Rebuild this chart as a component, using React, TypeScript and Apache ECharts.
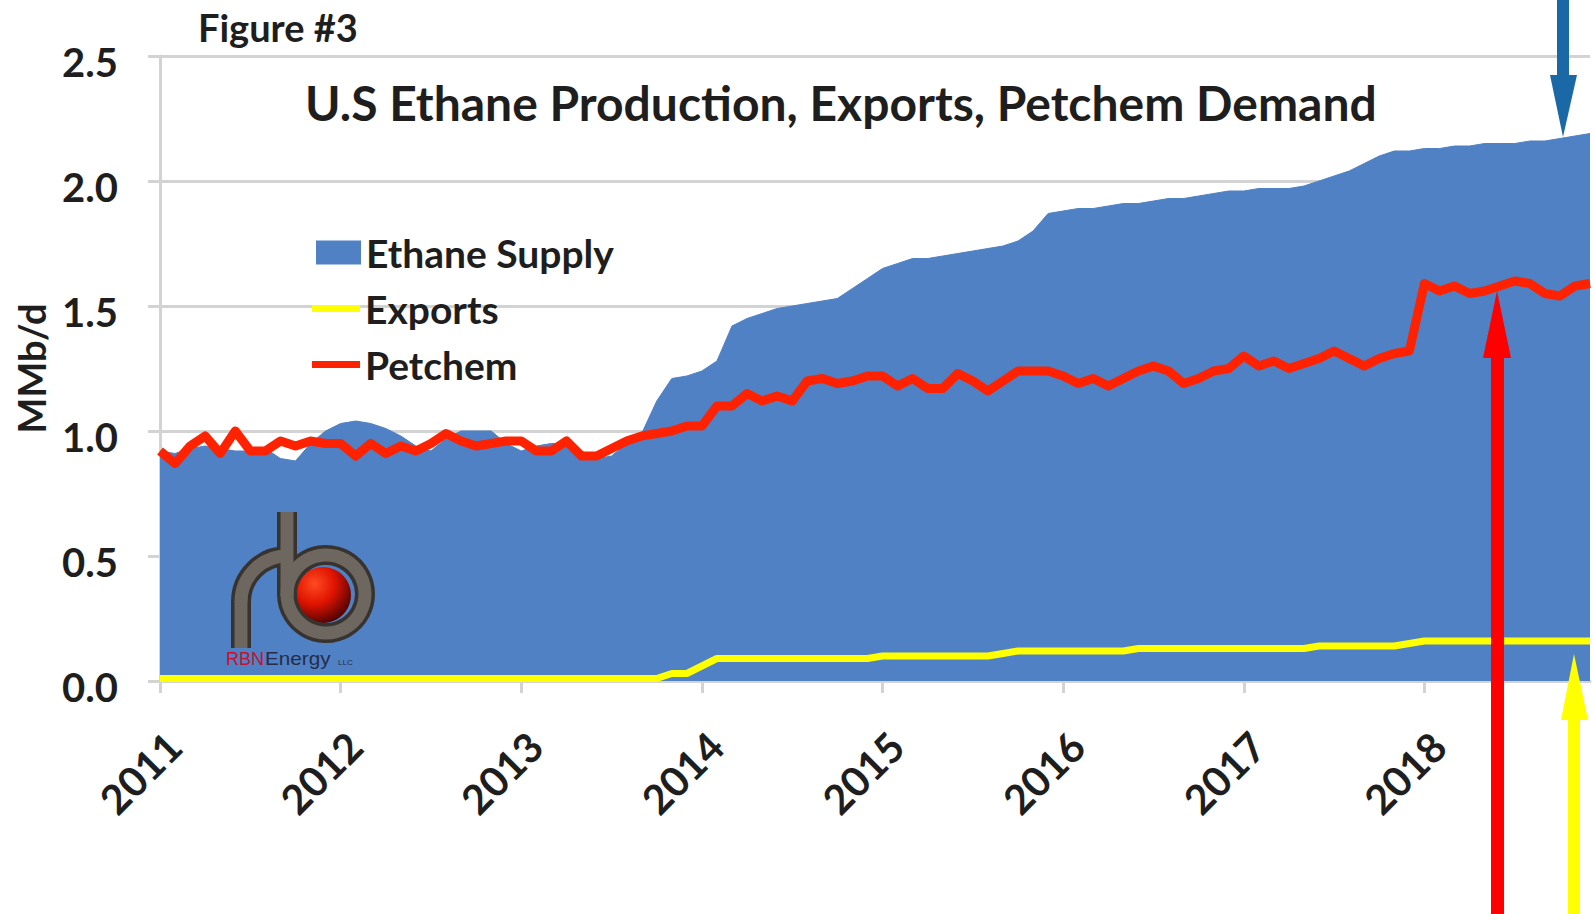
import React, { useEffect, useRef } from 'react';
import * as echarts from 'echarts';

const years = ['2011', '2012', '2013', '2014', '2015', '2016', '2017', '2018'];
const monthNums = ['01', '02', '03', '04', '05', '06', '07', '08', '09', '10', '11', '12'];
const months = years.flatMap((y) => monthNums.map((m) => `${y}-${m}`));

const yTickValues = [0, 0.5, 1.0, 1.5, 2.0, 2.5];

// MMb/d, monthly Jan 2011 - Dec 2018
const ethaneSupply = [
  0.92, 0.91, 0.93, 0.94, 0.93, 0.92, 0.92, 0.93, 0.89, 0.88, 0.95, 1.0,
  1.03, 1.04, 1.03, 1.01, 0.98, 0.94, 0.92, 0.97, 1.0, 1.0, 1.0, 0.95,
  0.92, 0.94, 0.95, 0.95, 0.92, 0.89, 0.9, 0.95, 0.99, 1.12, 1.21, 1.22,
  1.24, 1.28, 1.42, 1.45, 1.47, 1.49, 1.5, 1.51, 1.52, 1.53, 1.57, 1.61,
  1.65, 1.67, 1.69, 1.69, 1.7, 1.71, 1.72, 1.73, 1.74, 1.76, 1.8, 1.87,
  1.88, 1.89, 1.89, 1.9, 1.91, 1.91, 1.92, 1.93, 1.93, 1.94, 1.95, 1.96,
  1.96, 1.97, 1.97, 1.97, 1.98, 2.0, 2.02, 2.04, 2.07, 2.1, 2.12, 2.12,
  2.13, 2.13, 2.14, 2.14, 2.15, 2.15, 2.15, 2.16, 2.16, 2.17, 2.18, 2.19,
];

const exportsData = [
  0.01, 0.01, 0.01, 0.01, 0.01, 0.01, 0.01, 0.01, 0.01, 0.01, 0.01, 0.01,
  0.01, 0.01, 0.01, 0.01, 0.01, 0.01, 0.01, 0.01, 0.01, 0.01, 0.01, 0.01,
  0.01, 0.01, 0.01, 0.01, 0.01, 0.01, 0.01, 0.01, 0.01, 0.01, 0.03, 0.03,
  0.06, 0.09, 0.09, 0.09, 0.09, 0.09, 0.09, 0.09, 0.09, 0.09, 0.09, 0.09,
  0.1, 0.1, 0.1, 0.1, 0.1, 0.1, 0.1, 0.1, 0.11, 0.12, 0.12, 0.12,
  0.12, 0.12, 0.12, 0.12, 0.12, 0.13, 0.13, 0.13, 0.13, 0.13, 0.13, 0.13,
  0.13, 0.13, 0.13, 0.13, 0.13, 0.14, 0.14, 0.14, 0.14, 0.14, 0.14, 0.15,
  0.16, 0.16, 0.16, 0.16, 0.16, 0.16, 0.16, 0.16, 0.16, 0.16, 0.16, 0.16,
];

const petchem = [
  0.92, 0.87, 0.94, 0.98, 0.91, 1.0, 0.92, 0.92, 0.96, 0.94, 0.96, 0.95,
  0.95, 0.9, 0.95, 0.91, 0.94, 0.92, 0.95, 0.99, 0.96, 0.94, 0.95, 0.96,
  0.96, 0.92, 0.92, 0.96, 0.9, 0.9, 0.93, 0.96, 0.98, 0.99, 1.0, 1.02,
  1.02, 1.1, 1.1, 1.15, 1.12, 1.14, 1.12, 1.2, 1.21, 1.19, 1.2, 1.22,
  1.22, 1.18, 1.21, 1.17, 1.17, 1.23, 1.2, 1.16, 1.2, 1.24, 1.24, 1.24,
  1.22, 1.19, 1.21, 1.18, 1.21, 1.24, 1.26, 1.24, 1.19, 1.21, 1.24, 1.25,
  1.3, 1.26, 1.28, 1.25, 1.27, 1.29, 1.32, 1.29, 1.26, 1.29, 1.31, 1.32,
  1.59, 1.56, 1.58, 1.55, 1.56, 1.58, 1.6, 1.59, 1.55, 1.54, 1.58, 1.59,
];

const FONT = 'Lato';
const BLUE = '#4F81C4';
const RED = '#FF2200';
const YELLOW = '#FFFF00';
const GRID_GRAY = '#D3D3D3';
const TEXT = '#1E1E1E';

const pipeDark = '#38332f';
const pipeLight = '#6d6760';
const LOGO_Z = 50;

function buildLogo() {
  const strokes = (color: string, width: number) => [
    {
      type: 'arc',
      z: LOGO_Z,
      shape: { cx: 287, cy: 602, r: 46, startAngle: Math.PI, endAngle: Math.PI * 1.5, clockwise: true },
      style: { stroke: color, lineWidth: width, fill: null },
    },
    {
      type: 'line',
      z: LOGO_Z,
      shape: { x1: 241, y1: 601, x2: 241, y2: 648 },
      style: { stroke: color, lineWidth: width },
    },
    {
      type: 'line',
      z: LOGO_Z,
      shape: { x1: 287, y1: 512, x2: 287, y2: 596 },
      style: { stroke: color, lineWidth: width },
    },
    {
      type: 'circle',
      z: LOGO_Z,
      shape: { cx: 326, cy: 594, r: 39 },
      style: { stroke: color, lineWidth: width, fill: null },
    },
  ];
  const txt = (text: string, x: number, y: number, fill: string, size: number, sx: number) => ({
    type: 'text',
    z: LOGO_Z,
    x,
    y,
    scaleX: sx,
    style: { text, fill, fontSize: size, fontFamily: 'Liberation Sans', verticalAlign: 'middle' },
  });
  return [
    {
      type: 'circle',
      z: LOGO_Z,
      shape: { cx: 323, cy: 595, r: 28 },
      style: {
        fill: new echarts.graphic.RadialGradient(0.35, 0.3, 0.8, [
          { offset: 0, color: '#ff4a22' },
          { offset: 0.45, color: '#e01400' },
          { offset: 1, color: '#3a0000' },
        ]),
      },
    },
    ...strokes(pipeDark, 20),
    ...strokes(pipeLight, 13),
    txt('RBN', 226, 659, '#c8102e', 18, 1),
    txt('Energy', 265, 659, '#262c4a', 18, 1.15),
    txt('LLC', 338, 662, '#262c4a', 8, 1),
  ];
}

function buildArrows() {
  return [
    { type: 'rect', z: 60, shape: { x: 1557, y: 0, width: 12, height: 80 }, style: { fill: '#1a69a6' } },
    { type: 'polygon', z: 60, shape: { points: [[1550, 75], [1577, 75], [1563, 137]] }, style: { fill: '#1a69a6' } },
    { type: 'rect', z: 60, shape: { x: 1491, y: 352, width: 13, height: 562 }, style: { fill: '#FF0000' } },
    { type: 'polygon', z: 60, shape: { points: [[1483, 358], [1511, 358], [1497, 291]] }, style: { fill: '#FF0000' } },
    { type: 'rect', z: 60, shape: { x: 1568, y: 715, width: 12, height: 199 }, style: { fill: YELLOW } },
    { type: 'polygon', z: 60, shape: { points: [[1561, 720], [1588, 720], [1574, 654]] }, style: { fill: YELLOW } },
  ];
}

const legendText = { fontSize: 39, fontWeight: 'bold', color: TEXT, fontFamily: FONT, lineHeight: 24 };
const barIcon = 'path://M0 0H48V7H0Z';

export default function App() {
  const ref = useRef<HTMLDivElement>(null);

  useEffect(() => {
    if (!ref.current) return;
    const chart = echarts.init(ref.current, null, { renderer: 'svg' });
    const yearTick = (index: number) => index % 12 === 0;
    chart.setOption({
      animation: false,
      backgroundColor: '#ffffff',
      title: [
        {
          text: 'Figure #3',
          left: 198,
          top: 6,
          padding: 0,
          textStyle: { fontSize: 38, fontWeight: 'bold', color: TEXT, fontFamily: FONT, lineHeight: 42 },
        },
        {
          text: 'U.S Ethane Production, Exports, Petchem Demand',
          left: 305,
          top: 75,
          padding: 0,
          textStyle: { fontSize: 48, fontWeight: 'bold', color: TEXT, fontFamily: FONT, lineHeight: 54 },
        },
      ],
      legend: [
        {
          data: [{ name: 'Ethane Supply', icon: 'rect' }],
          left: 316,
          top: 233,
          padding: 0,
          itemWidth: 45,
          itemHeight: 24,
          selectedMode: false,
          textStyle: legendText,
        },
        {
          data: [{ name: 'Exports', icon: barIcon }],
          left: 312,
          top: 289,
          padding: 0,
          itemWidth: 48,
          itemHeight: 24,
          selectedMode: false,
          textStyle: legendText,
        },
        {
          data: [{ name: 'Petchem', icon: barIcon }],
          left: 312,
          top: 345,
          padding: 0,
          itemWidth: 48,
          itemHeight: 24,
          selectedMode: false,
          textStyle: legendText,
        },
      ],
      grid: { left: 160, right: 5, top: 56, bottom: 233, containLabel: false },
      xAxis: {
        type: 'category',
        data: months,
        boundaryGap: false,
        axisLine: { show: true, lineStyle: { color: GRID_GRAY, width: 3 } },
        axisTick: { show: true, interval: yearTick, length: 12, lineStyle: { color: GRID_GRAY, width: 3 } },
        axisLabel: {
          interval: yearTick,
          formatter: (v: string) => v.slice(0, 4),
          rotate: 45,
          margin: 44,
          verticalAlign: 'top',
          lineHeight: 40,
          fontSize: 41,
          fontWeight: 'bold',
          color: TEXT,
          fontFamily: FONT,
        },
        splitLine: { show: false },
      },
      yAxis: {
        type: 'value',
        min: yTickValues[0],
        max: yTickValues[yTickValues.length - 1],
        interval: 0.5,
        name: 'MMb/d',
        nameLocation: 'middle',
        nameGap: 110,
        nameRotate: 90,
        nameTextStyle: { fontSize: 38, fontWeight: 'bold', color: TEXT, fontFamily: FONT },
        axisLine: { show: true, lineStyle: { color: GRID_GRAY, width: 3 } },
        axisTick: { show: true, length: 12, lineStyle: { color: GRID_GRAY, width: 3 } },
        axisLabel: {
          formatter: (v: number) => v.toFixed(1),
          margin: 42,
          fontSize: 40,
          fontWeight: 'bold',
          color: TEXT,
          fontFamily: FONT,
          verticalAlign: 'top',
          lineHeight: 12,
        },
        splitLine: { show: true, lineStyle: { color: GRID_GRAY, width: 3 } },
      },
      series: [
        {
          name: 'Ethane Supply',
          type: 'line',
          data: ethaneSupply,
          showSymbol: false,
          symbol: 'none',
          color: BLUE,
          itemStyle: { color: BLUE },
          lineStyle: { width: 1, color: BLUE },
          areaStyle: { color: BLUE, opacity: 1 },
          z: 2,
        },
        {
          name: 'Exports',
          type: 'line',
          data: exportsData,
          showSymbol: false,
          symbol: 'none',
          color: YELLOW,
          itemStyle: { color: YELLOW },
          lineStyle: { width: 7, color: YELLOW },
          z: 3,
        },
        {
          name: 'Petchem',
          type: 'line',
          data: petchem,
          showSymbol: false,
          symbol: 'none',
          color: RED,
          itemStyle: { color: RED },
          lineStyle: { width: 9, color: RED, join: 'round' },
          z: 4,
        },
      ],
      graphic: [...buildLogo(), ...buildArrows()],
    });
    return () => chart.dispose();
  }, []);

  return (
    <div
      ref={ref}
      style={{ position: 'fixed', left: 0, top: 0, width: 1595, height: 914, background: '#fff' }}
    />
  );
}
